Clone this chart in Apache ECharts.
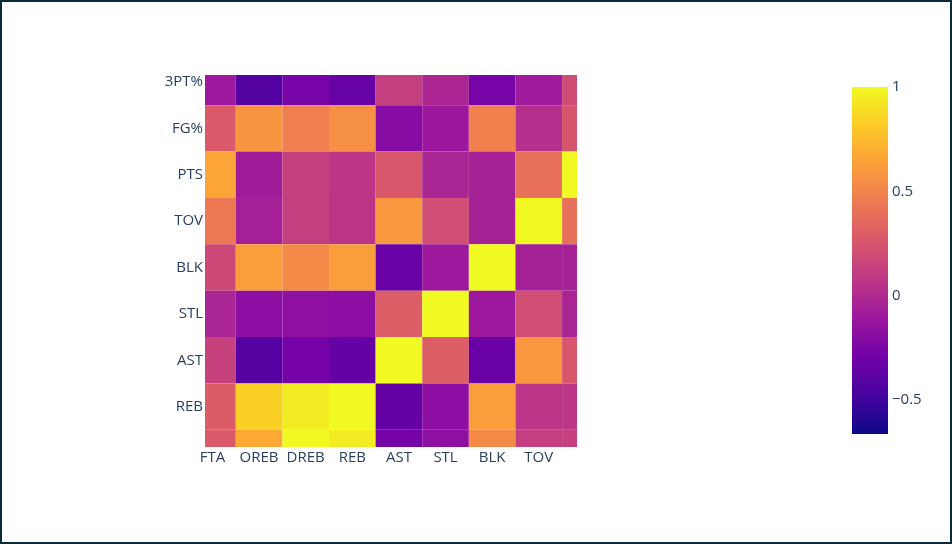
<!DOCTYPE html>
<html>
<head>
<meta charset="utf-8">
<script src="https://cdn.jsdelivr.net/npm/echarts@6/dist/echarts.min.js"></script>
<style>
  html, body { margin: 0; padding: 0; background: #fff; }
  #chart { position: absolute; left: 0; top: 0; width: 952px; height: 544px; }
  #frame { position: absolute; left: 0; top: 0; width: 952px; height: 544px; box-sizing: border-box; border: 2px solid #0c2a33; pointer-events: none; }
</style>
</head>
<body>
<div id="chart"></div>
<div id="frame"></div>
<script>
// Category list shared by both axes (index = axis value)
const categories = ['FTA', 'OREB', 'DREB', 'REB', 'AST', 'STL', 'BLK', 'TOV', 'PTS', 'FG%', '3PT%'];
// Columns visible: FTA..PTS (indices 0..8)
const colIndex = [0, 1, 2, 3, 4, 5, 6, 7, 8];
// Rows (values across columns FTA, OREB, DREB, REB, AST, STL, BLK, TOV, PTS)
const row3PT  = [-0.10, -0.42, -0.27, -0.34,  0.12, -0.02, -0.27, -0.09,  0.20];
const rowFG   = [ 0.28,  0.58,  0.47,  0.56, -0.20, -0.11,  0.48,  0.03,  0.25];
const rowPTS  = [ 0.65, -0.08,  0.13,  0.07,  0.26, -0.03, -0.05,  0.40,  1.00];
const rowTOV  = [ 0.44, -0.06,  0.12,  0.06,  0.59,  0.21, -0.05,  1.00,  0.40];
const rowBLK  = [ 0.18,  0.62,  0.53,  0.62, -0.33, -0.10,  1.00, -0.05, -0.05];
const rowSTL  = [-0.03, -0.18, -0.17, -0.18,  0.30,  1.00, -0.10,  0.21, -0.03];
const rowAST  = [ 0.14, -0.41, -0.28, -0.35,  1.00,  0.30, -0.33,  0.59,  0.26];
const rowREB  = [ 0.29,  0.84,  0.95,  1.00, -0.35, -0.18,  0.62,  0.06,  0.07];
const rowDREB = [ 0.28,  0.68,  1.00,  0.95, -0.28, -0.17,  0.53,  0.12,  0.13];
const rows = [
  ['3PT%', row3PT], ['FG%', rowFG], ['PTS', rowPTS], ['TOV', rowTOV], ['BLK', rowBLK],
  ['STL', rowSTL], ['AST', rowAST], ['REB', rowREB], ['DREB', rowDREB]
];
// Axis windows (in category index units) and tick labels shown
const xWindow = [-0.16, 7.82];
const yWindow = [2.13, 10.15];
const xTickIdx = [0, 1, 2, 3, 4, 5, 6, 7];
const yTickIdx = [3, 4, 5, 6, 7, 8, 9, 10];
// Colour scale
const zMin = -0.662, zMax = 1;
const plasma = ['#0d0887', '#46039f', '#7201a8', '#9c179e', '#bd3786', '#d8576b', '#ed7953', '#fb9f3a', '#fdca26', '#f0f921'];
const colorbarTicks = [-0.5, 0, 0.5, 1];

const data = [];
rows.forEach(([name, vals]) => {
  const yi = categories.indexOf(name);
  vals.forEach((v, k) => data.push([colIndex[k], yi, v]));
});

const font = '"Open Sans", verdana, arial, sans-serif';
const txt = '#2a3f5f';
const fs = 15;
const fmtNum = v => (v < 0 ? '\u2212' + Math.abs(v) : String(v));

const chart = echarts.init(document.getElementById('chart'), null, { renderer: 'canvas' });
chart.setOption({
  animation: false,
  backgroundColor: '#fff',
  grid: [
    { left: 205, top: 75, width: 372, height: 372 },
    { left: 852, top: 87, width: 36, height: 347 }
  ],
  xAxis: [
    {
      type: 'value', gridIndex: 0, min: xWindow[0], max: xWindow[1],
      axisLine: { show: false }, axisTick: { show: false }, splitLine: { show: false },
      axisLabel: {
        customValues: xTickIdx, margin: 3, color: txt, fontSize: fs, fontFamily: font,
        formatter: v => categories[Math.round(v)]
      }
    },
    { type: 'value', gridIndex: 1, min: 0, max: 1, show: false }
  ],
  yAxis: [
    {
      type: 'value', gridIndex: 0, min: yWindow[0], max: yWindow[1],
      axisLine: { show: false }, axisTick: { show: false }, splitLine: { show: false },
      axisLabel: {
        customValues: yTickIdx, margin: 2, color: txt, fontSize: fs, fontFamily: font,
        formatter: v => categories[Math.round(v)]
      }
    },
    {
      type: 'value', gridIndex: 1, min: zMin, max: zMax, position: 'right',
      axisLine: { show: false }, axisTick: { show: false }, splitLine: { show: false },
      axisLabel: {
        customValues: colorbarTicks, margin: 4, color: txt, fontSize: fs, fontFamily: font,
        formatter: fmtNum
      }
    }
  ],
  visualMap: {
    show: false, type: 'continuous', min: zMin, max: zMax, dimension: 2, seriesIndex: 0,
    inRange: { color: plasma }
  },
  series: [
    {
      type: 'custom', xAxisIndex: 0, yAxisIndex: 0,
      renderItem: function (params, api) {
        const x = api.value(0), y = api.value(1);
        const p1 = api.coord([x - 0.5, y + 0.5]);
        const p2 = api.coord([x + 0.5, y - 0.5]);
        const rect = echarts.graphic.clipRectByRect(
          { x: p1[0], y: p1[1], width: p2[0] - p1[0], height: p2[1] - p1[1] },
          { x: params.coordSys.x, y: params.coordSys.y, width: params.coordSys.width, height: params.coordSys.height }
        );
        if (!rect) return;
        return { type: 'rect', shape: rect, style: { fill: api.visual('color') } };
      },
      encode: { x: 0, y: 1 },
      data: data
    },
    {
      type: 'custom', xAxisIndex: 1, yAxisIndex: 1,
      renderItem: function (params, api) {
        const p1 = api.coord([0, zMax]);
        const p2 = api.coord([1, zMin]);
        const stops = plasma.slice().reverse().map((c, i) => ({ offset: i / (plasma.length - 1), color: c }));
        return {
          type: 'rect',
          shape: { x: p1[0], y: p1[1], width: p2[0] - p1[0], height: p2[1] - p1[1] },
          style: { fill: new echarts.graphic.LinearGradient(0, 0, 0, 1, stops) }
        };
      },
      data: [[0, zMin]]
    }
  ]
});
</script>
</body>
</html>
